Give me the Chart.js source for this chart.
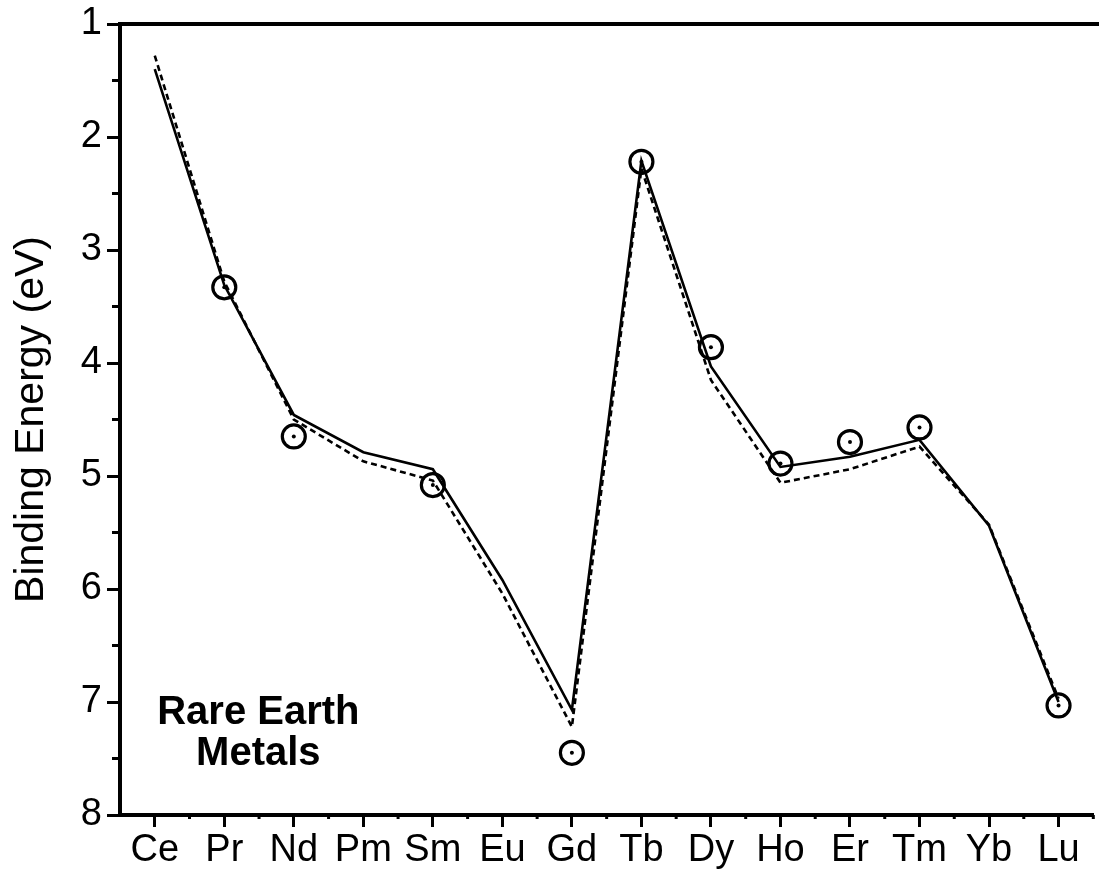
<!DOCTYPE html>
<html>
<head>
<meta charset="utf-8">
<script src="https://cdn.jsdelivr.net/npm/chart.js@4.4.0/dist/chart.umd.min.js"></script>
<style>
  html, body { margin: 0; padding: 0; background: #fff; overflow: hidden; }
  #wrap { position: absolute; left: 0; top: 0; width: 1108px; height: 871px; }
</style>
</head>
<body>
<div id="wrap"><canvas id="myChart"></canvas></div>
<script>
// rare earth metals along the x axis
var categories = ['Ce', 'Pr', 'Nd', 'Pm', 'Sm', 'Eu', 'Gd', 'Tb', 'Dy', 'Ho', 'Er', 'Tm', 'Yb', 'Lu'];

// measured points (open circles with a dot)
var measured = [null, 3.33, 4.65, null, 5.08, null, 7.45, 2.22, 3.86, 4.89, 4.70, 4.57, null, 7.03];

// solid line
var calcSolid = [1.40, 3.31, 4.46, 4.79, 4.94, 5.92, 7.07, 2.21, 4.03, 4.92, 4.83, 4.68, 5.44, 7.00];

// dashed line
var calcDashed = [1.28, 3.28, 4.50, 4.87, 5.04, 6.04, 7.22, 2.28, 4.15, 5.06, 4.94, 4.74, 5.43, 6.97];

var yTicks = [1, 2, 3, 4, 5, 6, 7, 8];

var FONT = '"Liberation Sans", Arial, sans-serif';
Chart.defaults.font.family = FONT;
Chart.defaults.color = '#000';

// minor ticks, top frame line and the "Rare Earth Metals" note
var extras = {
  id: 'extras',
  afterDraw: function(chart) {
    var ctx = chart.ctx;
    var area = chart.chartArea;
    var x = chart.scales.x;
    var y = chart.scales.y;
    ctx.save();
    ctx.strokeStyle = '#000';
    ctx.lineWidth = 3;
    for (var v = yTicks[0] + 0.5; v < yTicks[yTicks.length - 1]; v += 1) {
      var py = y.getPixelForValue(v);
      ctx.beginPath();
      ctx.moveTo(area.left - 8, py);
      ctx.lineTo(area.left, py);
      ctx.stroke();
    }
    for (var i = 0; i < categories.length; i++) {
      var px = x.getPixelForValue(i + 0.5);
      ctx.beginPath();
      ctx.moveTo(px, area.bottom);
      ctx.lineTo(px, area.bottom + 4);
      ctx.stroke();
    }
    ctx.lineWidth = 4;
    ctx.beginPath();
    ctx.moveTo(area.left - 2, area.top);
    ctx.lineTo(chart.width, area.top);
    ctx.stroke();

    ctx.fillStyle = '#000';
    ctx.font = 'bold 40px ' + FONT;
    ctx.textAlign = 'center';
    ctx.textBaseline = 'middle';
    ctx.fillText('Rare Earth', x.getPixelForValue(1.49), y.getPixelForValue(7.1));
    ctx.fillText('Metals', x.getPixelForValue(1.49), y.getPixelForValue(7.46));
    ctx.restore();
  }
};

var ctx = document.getElementById('myChart');

var myChart = new Chart(ctx, {
  type: 'line',
  data: {
    labels: categories,
    datasets: [
      {
        label: 'solid',
        data: calcSolid,
        borderColor: '#000',
        borderWidth: 2.6,
        pointRadius: 0,
        tension: 0
      },
      {
        label: 'dashed',
        data: calcDashed,
        borderColor: '#000',
        borderWidth: 2.6,
        borderDash: [6, 4],
        pointRadius: 0,
        tension: 0
      },
      {
        label: 'measured',
        data: measured,
        showLine: false,
        pointStyle: 'circle',
        pointRadius: 11.5,
        pointBorderWidth: 3.2,
        pointBorderColor: '#000',
        pointBackgroundColor: 'rgba(0,0,0,0)'
      },
      {
        label: 'measured dot',
        data: measured,
        showLine: false,
        pointStyle: 'circle',
        pointRadius: 2,
        pointBorderWidth: 0,
        pointBackgroundColor: '#000'
      }
    ]
  },
  options: {
    responsive: true,
    maintainAspectRatio: false,
    animation: false,
    events: [],
    layout: { padding: { top: 24, right: 2, left: 0, bottom: 0 } },
    plugins: {
      legend: { display: false },
      tooltip: { enabled: false }
    },
    scales: {
      x: {
        type: 'category',
        offset: true,
        grid: {
          display: true,
          offset: false,
          drawOnChartArea: false,
          drawTicks: true,
          tickLength: 12,
          tickWidth: 3,
          tickColor: '#000'
        },
        border: { display: true, color: '#000', width: 4 },
        ticks: {
          font: { size: 38 },
          color: '#000',
          padding: 1,
          maxRotation: 0,
          autoSkip: false
        },
        afterFit: function(scale) {
          scale.height = 56;
          scale.paddingLeft = 0;
          scale.paddingRight = 0;
        }
      },
      y: {
        reverse: true,
        min: yTicks[0],
        max: yTicks[yTicks.length - 1],
        afterBuildTicks: function(scale) {
          scale.ticks = yTicks.map(function(v) { return { value: v }; });
        },
        grid: {
          display: true,
          drawOnChartArea: false,
          drawTicks: true,
          tickLength: 13,
          tickWidth: 3,
          tickColor: '#000'
        },
        border: { display: true, color: '#000', width: 4 },
        ticks: {
          font: { size: 38 },
          color: '#000',
          padding: 5
        },
        title: {
          display: true,
          text: 'Binding Energy (eV)',
          font: { size: 41 },
          color: '#000',
          padding: { top: 7, bottom: 0 }
        },
        afterFit: function(scale) {
          scale.width = 120;
          scale.paddingTop = 0;
          scale.paddingBottom = 0;
        }
      }
    }
  },
  plugins: [extras]
});
</script>
</body>
</html>
